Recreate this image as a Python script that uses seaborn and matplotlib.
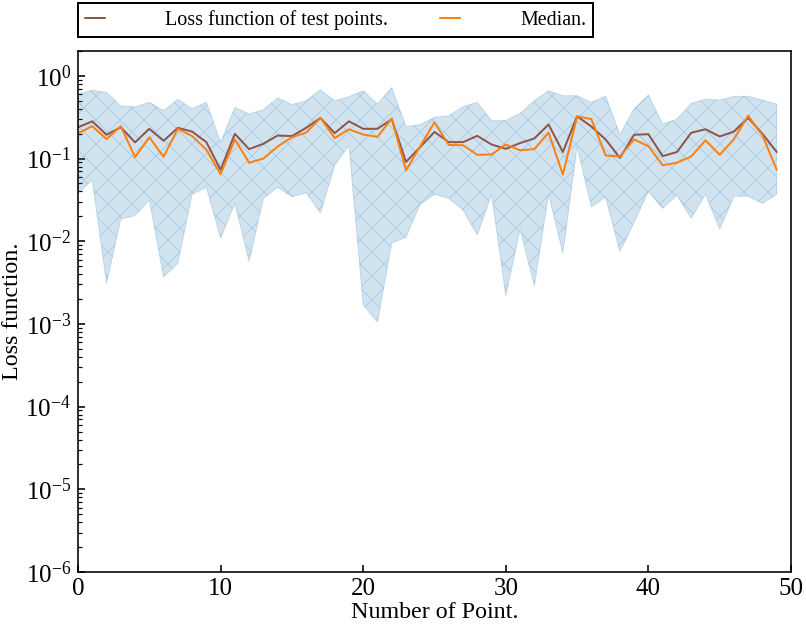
import numpy as np
import pandas as pd
import seaborn as sns
import matplotlib.pyplot as plt

# values (log scale)
points = np.arange(50)
loss = [0.239, 0.282, 0.194, 0.239, 0.157, 0.229, 0.164, 0.235, 0.212, 0.158,
        0.073, 0.199, 0.130, 0.151, 0.190, 0.187, 0.235, 0.31, 0.203, 0.282,
        0.229, 0.229, 0.299, 0.091, 0.138, 0.21, 0.158, 0.158, 0.188, 0.148,
        0.131, 0.154, 0.175, 0.258, 0.12, 0.324, 0.244, 0.170, 0.102, 0.194,
        0.197, 0.107, 0.12, 0.205, 0.226, 0.185, 0.212, 0.31, 0.199, 0.12]
median = [0.203, 0.246, 0.172, 0.246, 0.104, 0.181, 0.105, 0.229, 0.187, 0.128,
          0.0645, 0.170, 0.089, 0.100, 0.140, 0.181, 0.206, 0.31, 0.177, 0.226,
          0.195, 0.183, 0.305, 0.072, 0.141, 0.275, 0.146, 0.145, 0.111, 0.112,
          0.148, 0.126, 0.130, 0.206, 0.064, 0.324, 0.30, 0.109, 0.106, 0.170,
          0.141, 0.083, 0.089, 0.106, 0.166, 0.111, 0.172, 0.33, 0.19, 0.073]
upper = [0.60, 0.67, 0.63, 0.435, 0.42, 0.48, 0.38, 0.52, 0.40, 0.48,
         0.158, 0.416, 0.346, 0.39, 0.54, 0.45, 0.50, 0.68, 0.50, 0.56,
         0.66, 0.456, 0.72, 0.244, 0.258, 0.315, 0.33, 0.424, 0.478, 0.288,
         0.288, 0.352, 0.50, 0.66, 0.575, 0.575, 0.478, 0.57, 0.195, 0.40,
         0.586, 0.262, 0.30, 0.465, 0.52, 0.51, 0.565, 0.565, 0.51, 0.456]
lower = [0.038, 0.055, 0.0031, 0.0186, 0.0204, 0.0315, 0.0037, 0.0054, 0.037, 0.045,
         0.0109, 0.0287, 0.0057, 0.033, 0.045, 0.0345, 0.0385, 0.022, 0.083, 0.144,
         0.0017, 0.00105, 0.0095, 0.0112, 0.028, 0.037, 0.033, 0.0238, 0.0119, 0.037,
         0.0022, 0.014, 0.0029, 0.037, 0.0072, 0.138, 0.026, 0.034, 0.0075, 0.017,
         0.040, 0.025, 0.036, 0.019, 0.037, 0.014, 0.035, 0.035, 0.0287, 0.037]

df = pd.DataFrame({'point': points, 'loss': loss, 'median': median,
                   'upper': upper, 'lower': lower})

sns.set_style('ticks')
plt.rcParams['font.family'] = ['Liberation Serif', 'DejaVu Serif']
plt.rcParams['mathtext.fontset'] = 'stix'
plt.rcParams['hatch.linewidth'] = 0.5
plt.rcParams['hatch.color'] = '#1f77b4'
plt.rcParams['axes.edgecolor'] = 'black'
plt.rcParams['xtick.color'] = 'black'
plt.rcParams['ytick.color'] = 'black'
plt.rcParams['text.color'] = 'black'
plt.rcParams['axes.labelcolor'] = 'black'

fig = plt.figure(figsize=(806 / 144, 627 / 144), dpi=144)
ax = fig.add_axes([0.0968, 0.0877, 0.8846, 0.831])

ax.fill_between(df['point'], df['lower'], df['upper'], color='#1f77b4',
                alpha=0.2, hatch='xx', linewidth=0.5)
sns.lineplot(data=df, x='point', y='loss', color='#8c564b', linewidth=1.0,
             label='Loss function of test points.', ax=ax)
sns.lineplot(data=df, x='point', y='median', color='#ff7f0e', linewidth=1.0,
             label='Median.', ax=ax)

ax.set_yscale('log')
ax.set_xlim(0, 50)
ax.set_ylim(1e-6, 2)
ax.set_xticks([0, 10, 20, 30, 40, 50])
ax.tick_params(axis='both', which='both', direction='in', labelsize=12.5)
ax.tick_params(axis='x', pad=3)
ax.set_xlabel('Number of Point.', fontsize=12, labelpad=1)
ax.set_ylabel('Loss function.', fontsize=12, labelpad=1)
for s in ax.spines.values():
    s.set_linewidth(0.8)

ax.legend(loc='lower left', bbox_to_anchor=(0.0, 1.027), ncol=2,
          frameon=True, fancybox=False, edgecolor='black', fontsize=10,
          handlelength=1.0, handletextpad=3.0, columnspacing=2.6,
          borderaxespad=0, borderpad=0.35, framealpha=1)

plt.savefig('out.png', dpi=144)
